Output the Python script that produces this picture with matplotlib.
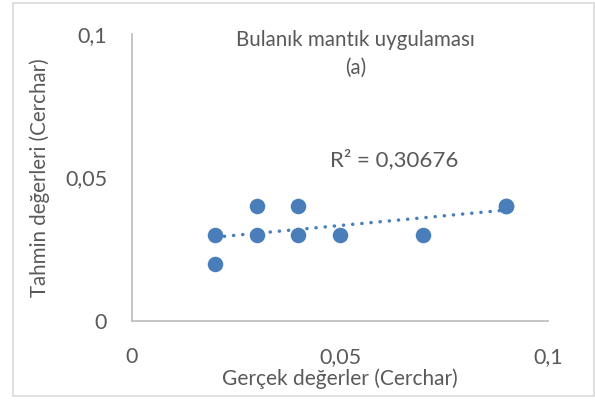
import numpy as np
import matplotlib.pyplot as plt
from matplotlib.patches import Rectangle

plt.rcParams['font.family'] = ['Lato', 'DejaVu Sans']

# gercek (measured) vs tahmin (predicted) Cerchar values
gercek = [0.02, 0.02, 0.03, 0.03, 0.04, 0.04, 0.05, 0.07, 0.09, 0.09]
tahmin = [0.03, 0.02, 0.04, 0.03, 0.04, 0.03, 0.03, 0.03, 0.04, 0.04]
x_ticks = [0, 0.05, 0.1]
y_ticks = [0, 0.05, 0.1]
tick_labels = ['0', '0,05', '0,1']
r2_text = 'R² = 0,30676'

text_col = '#595959'
dot_col = '#4a7ebb'

fig = plt.figure(figsize=(5.95, 4.0), dpi=100)
ax = fig.add_axes([132 / 595, 1 - 321 / 400, (548 - 132) / 595, (321 - 34) / 400])

ax.scatter(gercek, tahmin, s=125, color=dot_col, zorder=3, linewidths=0)

# linear trendline like excel
b, a = np.polyfit(gercek, tahmin, 1)
xs = np.array([min(gercek), max(gercek)])
ax.plot(xs, a + b * xs, color=dot_col, linestyle=(0, (0.05, 2.6)), linewidth=2.5,
        dash_capstyle='round', solid_capstyle='round', zorder=2)

ax.set_xlim(0, 0.1)
ax.set_ylim(0, 0.1)
ax.set_xticks(x_ticks)
ax.set_yticks(y_ticks)
ax.set_xticklabels(tick_labels)
ax.set_yticklabels(tick_labels)
ax.tick_params(length=0, labelsize=15.5, colors=text_col)
ax.tick_params(axis='x', pad=19)
ax.tick_params(axis='y', pad=18)

for s in ['top', 'right']:
    ax.spines[s].set_visible(False)
for s in ['left', 'bottom']:
    ax.spines[s].set_color('#bfbfbf')
    ax.spines[s].set_linewidth(1.3)

ax.set_xlabel('Gerçek değerler (Cerchar)', fontsize=15, color=text_col, labelpad=1)
ax.set_ylabel('Tahmin değerleri (Cerchar)', fontsize=14.8, color=text_col, labelpad=11)

fig.text(355 / 595, 1 - 40 / 400, 'Bulanık mantık uygulaması', ha='center', va='center',
         fontsize=14.8, color=text_col)
fig.text(356 / 595, 1 - 68 / 400, '(a)', ha='center', va='center',
         fontsize=14.8, color=text_col)
fig.text(394 / 595, 1 - 160 / 400, r2_text, ha='center', va='center',
         fontsize=16, color=text_col)

fig.patches.append(Rectangle((13 / 595, 4 / 400), 581 / 595, 393 / 400,
                             transform=fig.transFigure, fill=False,
                             edgecolor='#d9d9d9', linewidth=1.2))

fig.savefig('out.png', dpi=100)
